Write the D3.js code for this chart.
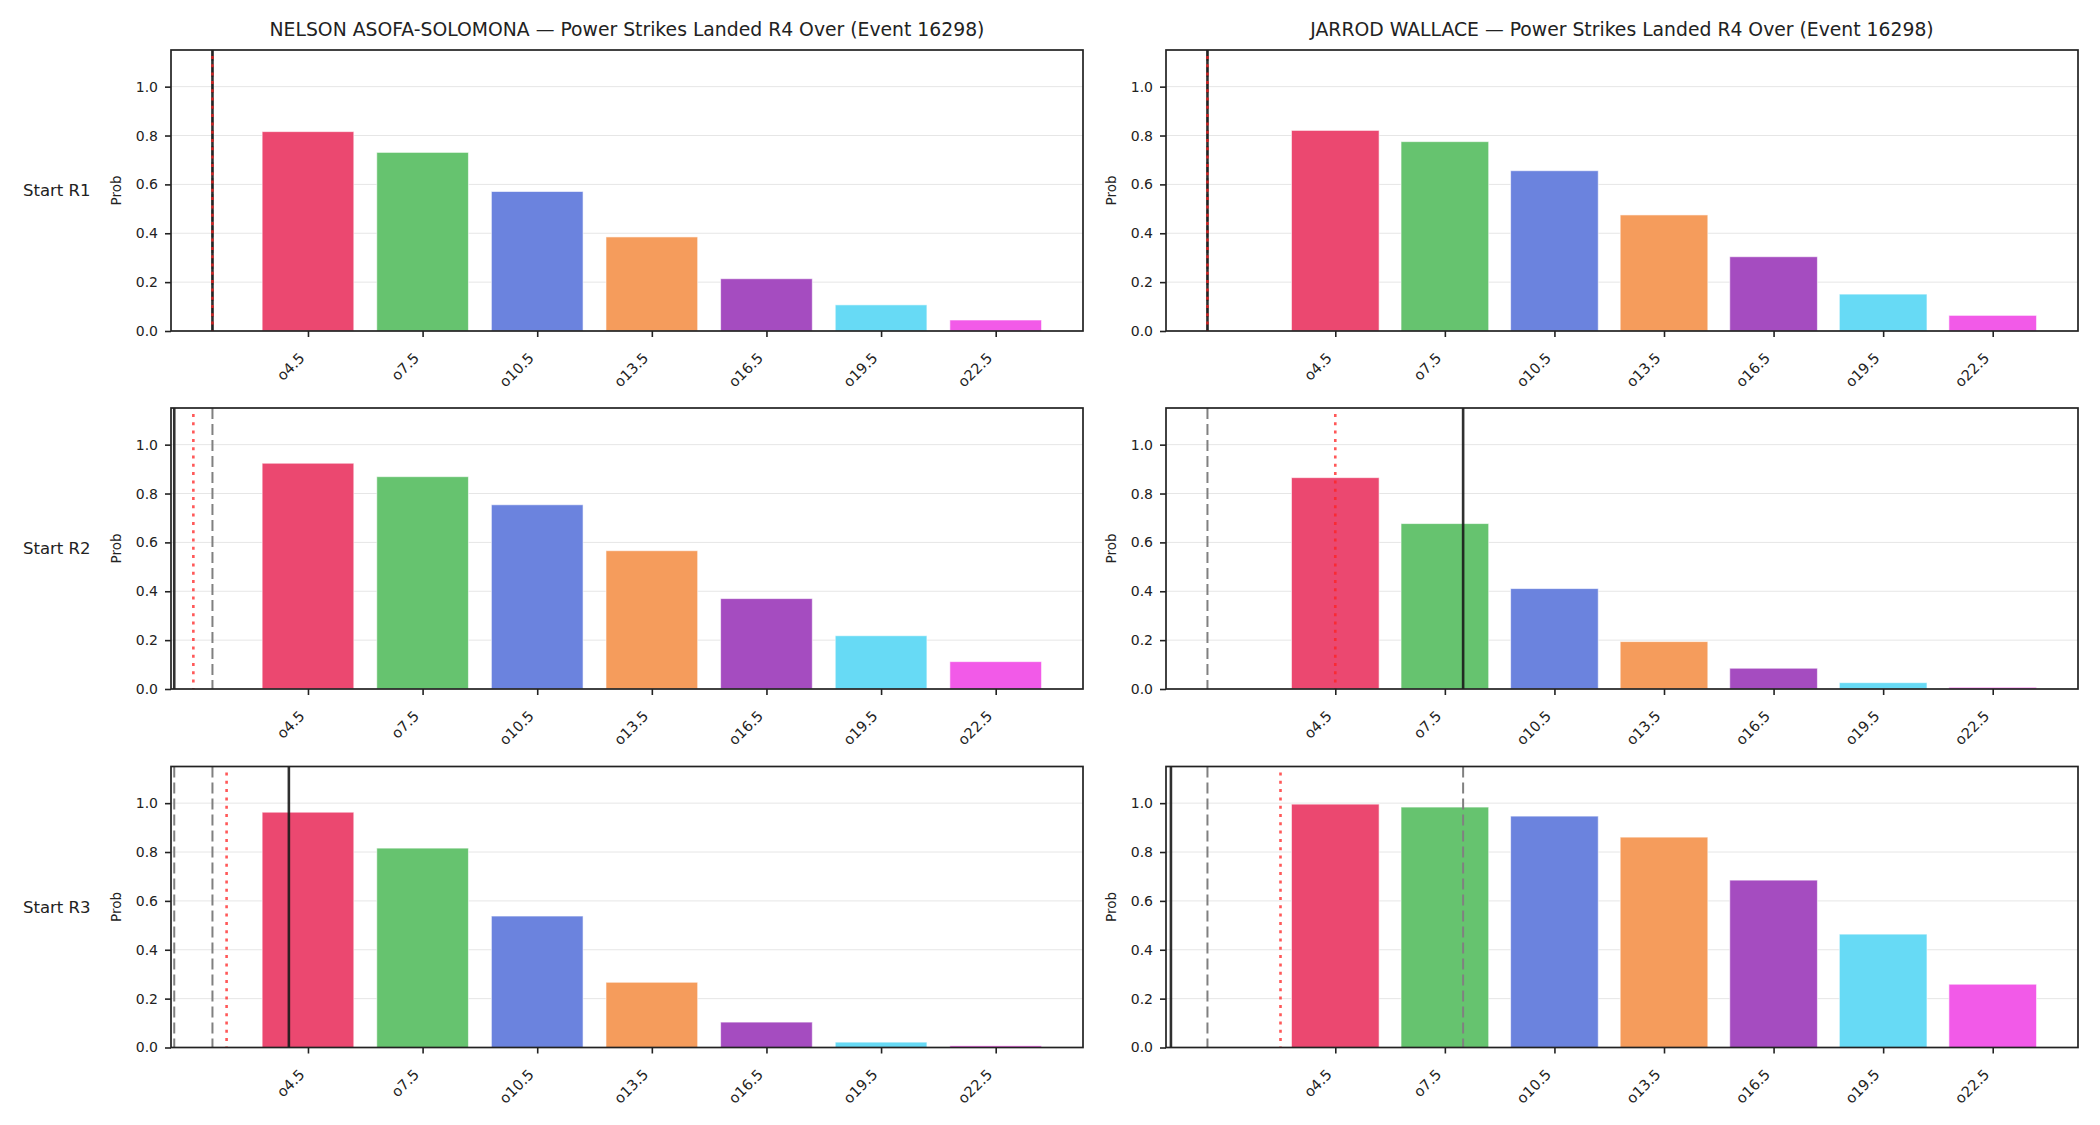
<!DOCTYPE html>
<html>
<head>
<meta charset="utf-8">
<script src="https://cdn.jsdelivr.net/npm/d3@7"></script>
<style>
  body { margin: 0; background: #fff; }
  text { font-family: "DejaVu Sans", sans-serif; fill: #222; }
</style>
</head>
<body>
<svg id="chart" width="2100" height="1125"></svg>
<script>
const fighters = ["NELSON ASOFA-SOLOMONA", "JARROD WALLACE"];
const rounds = ["Start R1", "Start R2", "Start R3"];
const categories = ["o4.5", "o7.5", "o10.5", "o13.5", "o16.5", "o19.5", "o22.5"];
const thresholds = [4.5, 7.5, 10.5, 13.5, 16.5, 19.5, 22.5];
const yTicks = [0, 0.2, 0.4, 0.6, 0.8, 1.0];
const barColors = ["#eb4870", "#66c36f", "#6b83de", "#f59c5c", "#a54cc0", "#67daf5", "#f25ae8"];

// probabilities per starting round
const nelsonR1 = [0.816, 0.731, 0.571, 0.385, 0.214, 0.107, 0.045];
const nelsonR2 = [0.924, 0.869, 0.754, 0.566, 0.370, 0.218, 0.112];
const nelsonR3 = [0.963, 0.816, 0.538, 0.267, 0.104, 0.022, 0.007];
const jarrodR1 = [0.821, 0.775, 0.656, 0.475, 0.304, 0.151, 0.064];
const jarrodR2 = [0.865, 0.677, 0.411, 0.194, 0.085, 0.026, 0.007];
const jarrodR3 = [0.996, 0.984, 0.947, 0.861, 0.685, 0.464, 0.259];

// reference lines (strike counts)
const nelsonDashed = [[2], [2], [1, 2]];
const nelsonSolid = [2, 1, 4];
const nelsonDotted = [2, 1.5, 2.37];
const jarrodDashed = [[1], [1], [1, 8]];
const jarrodSolid = [1, 8, 0];
const jarrodDotted = [1, 4.5, 3];

const probs = [[nelsonR1, nelsonR2, nelsonR3], [jarrodR1, jarrodR2, jarrodR3]];
const dashed = [nelsonDashed, jarrodDashed];
const solid = [nelsonSolid, jarrodSolid];
const dotted = [nelsonDotted, jarrodDotted];

const xDomains = [[0.915, 24.785], [-0.135, 24.835]];
const colX = [171, 1166];
const rowY = [50, 408, 766.5];
const axW = 912, axH = 281;
const barWidth = 2.4;

const svg = d3.select("#chart");

for (let c = 0; c < 2; c++) {
  for (let r = 0; r < 3; r++) {
    const g = svg.append("g")
      .attr("transform", `translate(${colX[c]},${rowY[r]})`);

    const x = d3.scaleLinear().domain(xDomains[c]).range([0, axW]);
    const y = d3.scaleLinear().domain([0, 1.15]).range([axH, 0]);

    // grid
    g.selectAll(".grid")
      .data(yTicks.slice(1))
      .enter().append("line")
      .attr("x1", 0).attr("x2", axW)
      .attr("y1", d => y(d)).attr("y2", d => y(d))
      .attr("stroke", "#e6e6e6")
      .attr("stroke-width", 1);

    // bars
    g.selectAll(".bar")
      .data(probs[c][r])
      .enter().append("rect")
      .attr("x", (d, i) => x(thresholds[i] - barWidth / 2))
      .attr("y", d => y(d))
      .attr("width", x(barWidth) - x(0))
      .attr("height", d => axH - y(d))
      .attr("fill", (d, i) => barColors[i])
      .attr("stroke", "#fff")
      .attr("stroke-opacity", 0.6)
      .attr("stroke-width", 1);

    // reference lines
    g.selectAll(".dashed")
      .data(dashed[c][r])
      .enter().append("line")
      .attr("x1", d => x(d)).attr("x2", d => x(d))
      .attr("y1", 0).attr("y2", axH)
      .attr("stroke", "#808080")
      .attr("stroke-width", 2)
      .attr("stroke-dasharray", "11,5");

    g.append("line")
      .attr("x1", x(solid[c][r])).attr("x2", x(solid[c][r]))
      .attr("y1", 0).attr("y2", axH)
      .attr("stroke", "#1a1a1a")
      .attr("stroke-opacity", 0.9)
      .attr("stroke-width", 2.6);

    g.append("line")
      .attr("x1", x(dotted[c][r])).attr("x2", x(dotted[c][r]))
      .attr("y1", 6).attr("y2", axH)
      .attr("stroke", "#ff2020")
      .attr("stroke-opacity", 0.75)
      .attr("stroke-width", 2.6)
      .attr("stroke-dasharray", "3,5.3");

    // axes
    const yAxis = g.append("g")
      .call(d3.axisLeft(y).tickValues(yTicks).tickFormat(d3.format(".1f")).tickSize(6).tickPadding(7));
    yAxis.select(".domain").remove();
    yAxis.selectAll("line").attr("stroke", "#222").attr("stroke-width", 1.6);
    yAxis.selectAll("text").style("font-size", "14px");

    const xAxis = g.append("g")
      .attr("transform", `translate(0,${axH})`)
      .call(d3.axisBottom(x).tickValues(thresholds).tickFormat((d, i) => categories[i]).tickSize(6));
    xAxis.select(".domain").remove();
    xAxis.selectAll("line").attr("stroke", "#222").attr("stroke-width", 1.6);
    xAxis.selectAll("text")
      .attr("x", 0).attr("y", 0).attr("dy", 0)
      .attr("text-anchor", "end")
      .attr("transform", "translate(-3,28) rotate(-45)")
      .style("font-size", "14.5px");

    // frame
    g.append("rect")
      .attr("width", axW).attr("height", axH)
      .attr("fill", "none")
      .attr("stroke", "#222")
      .attr("stroke-width", 1.7);

    g.append("text")
      .attr("transform", `translate(-55,${axH / 2}) rotate(-90)`)
      .attr("text-anchor", "middle")
      .attr("dy", "0.35em")
      .style("font-size", "13.5px")
      .text("Prob");

    if (r === 0) {
      g.append("text")
        .attr("x", axW / 2).attr("y", -14)
        .attr("text-anchor", "middle")
        .style("font-size", "18.8px")
        .text(`${fighters[c]} — Power Strikes Landed R4 Over (Event 16298)`);
    }

    if (c === 0) {
      svg.append("text")
        .attr("x", 23).attr("y", rowY[r] + axH / 2)
        .attr("dy", "0.35em")
        .style("font-size", "16.5px")
        .text(rounds[r]);
    }
  }
}
</script>
</body>
</html>
